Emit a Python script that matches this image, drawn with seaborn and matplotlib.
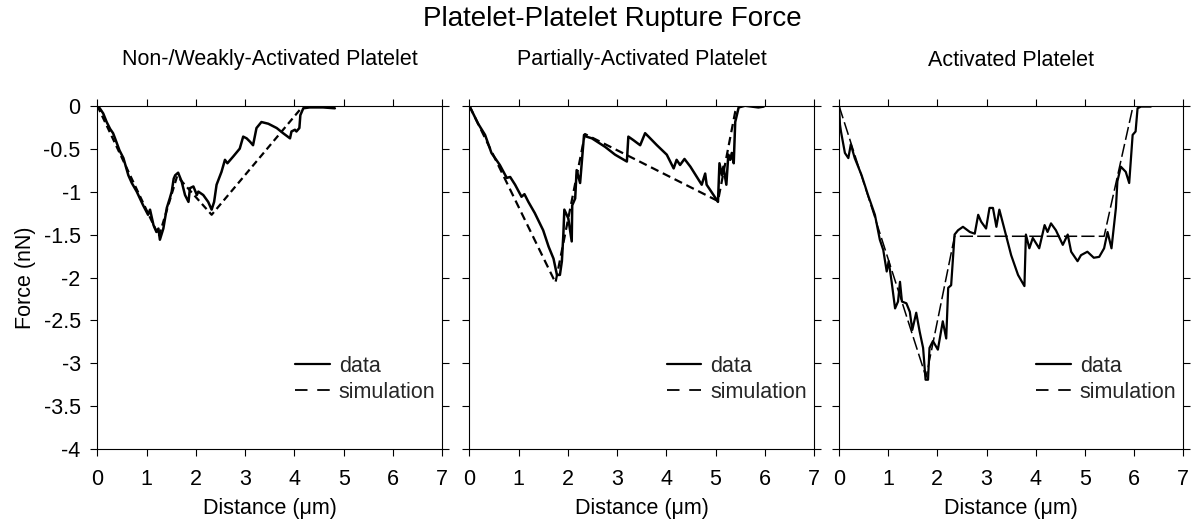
import matplotlib
matplotlib.use("Agg")
import matplotlib.pyplot as plt
from matplotlib.lines import Line2D
from matplotlib.ticker import FuncFormatter
import seaborn as sns

# ---------------------------------------------------------------- data
suptitle_text = "Platelet-Platelet Rupture Force"
panel_titles = ["Non-/Weakly-Activated Platelet",
                "Partially-Activated Platelet",
                "Activated Platelet"]
x_ticks = [0, 1, 2, 3, 4, 5, 6, 7]
y_ticks = [0, -0.5, -1, -1.5, -2, -2.5, -3, -3.5, -4]
legend_labels = ["data", "simulation"]

# Non-/weakly-activated platelet pair
weak_data_x = [0, 0.05, 0.12, 0.19, 0.26, 0.32, 0.36, 0.45, 0.53, 0.63, 0.70, 0.75,
               0.80, 0.93, 1.03, 1.07, 1.14, 1.20, 1.24, 1.27, 1.34, 1.41, 1.47,
               1.51, 1.55, 1.58, 1.64, 1.71, 1.78, 1.85, 1.88, 1.95, 2.02, 2.05,
               2.15, 2.25, 2.32, 2.37, 2.42, 2.52, 2.59, 2.64, 2.76, 2.89, 2.96,
               3.03, 3.10, 3.16, 3.23, 3.33, 3.47, 3.64, 3.77, 3.91, 3.94, 4.01,
               4.04, 4.10, 4.12, 4.18, 4.31, 4.58, 4.82]
weak_data_y = [0, -0.03, -0.09, -0.19, -0.27, -0.32, -0.38, -0.52, -0.61, -0.81,
               -0.90, -0.95, -1.00, -1.16, -1.27, -1.21, -1.39, -1.47, -1.43,
               -1.56, -1.43, -1.19, -1.08, -1.00, -0.85, -0.81, -0.78, -0.88,
               -1.04, -1.12, -0.96, -0.94, -1.04, -1.00, -1.04, -1.12, -1.21,
               -1.12, -0.92, -0.77, -0.63, -0.67, -0.59, -0.50, -0.36, -0.38,
               -0.42, -0.46, -0.26, -0.19, -0.21, -0.26, -0.32, -0.38, -0.30,
               -0.28, -0.30, -0.26, -0.11, -0.03, -0.02, -0.02, -0.03]
weak_sim_x = [0, 1.25, 1.62, 2.32, 4.18, 4.80]
weak_sim_y = [0, -1.52, -0.82, -1.27, 0.0, 0.0]

# Partially-activated platelet pair
partial_data_x = [0, 0.18, 0.32, 0.45, 0.62, 0.76, 0.83, 0.93, 1.06, 1.12, 1.20,
                  1.33, 1.50, 1.61, 1.71, 1.78, 1.84, 1.88, 1.91, 1.93, 2.01, 2.08,
                  2.09, 2.15, 2.18, 2.25, 2.28, 2.33, 2.38, 2.49, 2.76, 2.96, 3.20,
                  3.23, 3.33, 3.47, 3.57, 3.64, 3.81, 4.01, 4.15, 4.21, 4.28, 4.37,
                  4.49, 4.72, 4.79, 4.82, 4.96, 5.05, 5.08, 5.13, 5.16, 5.22, 5.26,
                  5.30, 5.33, 5.37, 5.40, 5.47, 5.60, 5.87, 5.98]
partial_data_y = [0, -0.21, -0.34, -0.55, -0.69, -0.84, -0.83, -0.92, -1.06, -1.03,
                  -1.12, -1.25, -1.45, -1.64, -1.78, -1.97, -1.97, -1.81, -1.50,
                  -1.21, -1.31, -1.58, -1.16, -1.08, -0.75, -0.90, -0.69, -0.34,
                  -0.36, -0.38, -0.48, -0.57, -0.65, -0.36, -0.40, -0.46, -0.32,
                  -0.36, -0.46, -0.57, -0.73, -0.63, -0.69, -0.62, -0.71, -0.92,
                  -0.79, -0.92, -1.04, -1.12, -0.67, -0.81, -0.71, -0.92, -0.57,
                  -0.63, -0.55, -0.67, -0.19, -0.02, 0.0, -0.02, -0.01]
partial_sim_x = [0, 1.75, 2.35, 5.05, 5.40, 5.47]
partial_sim_y = [0, -2.06, -0.33, -1.11, -0.07, 0.0]

# Activated platelet pair
active_data_x = [0, 0.02, 0.04, 0.12, 0.19, 0.24, 0.32, 0.46, 0.59, 0.73, 0.83,
                 0.90, 0.97, 1.01, 1.07, 1.14, 1.20, 1.24, 1.28, 1.37, 1.44, 1.49,
                 1.57, 1.64, 1.71, 1.76, 1.81, 1.84, 1.91, 2.01, 2.11, 2.18, 2.22,
                 2.28, 2.35, 2.42, 2.52, 2.66, 2.76, 2.83, 2.89, 2.99, 3.06, 3.13,
                 3.20, 3.26, 3.36, 3.50, 3.64, 3.77, 3.80, 3.87, 3.94, 4.07, 4.18,
                 4.24, 4.31, 4.41, 4.55, 4.65, 4.72, 4.85, 4.92, 5.05, 5.18, 5.29,
                 5.39, 5.46, 5.54, 5.63, 5.66, 5.73, 5.83, 5.90, 5.97, 6.03, 6.07,
                 6.14, 6.34]
active_data_y = [0, -0.22, -0.30, -0.55, -0.61, -0.45, -0.61, -0.81, -1.04, -1.27,
                 -1.56, -1.68, -1.93, -1.81, -2.05, -2.36, -2.28, -2.05, -2.28,
                 -2.30, -2.40, -2.61, -2.41, -2.63, -2.82, -3.19, -3.19, -2.82,
                 -2.74, -2.84, -2.51, -2.71, -2.12, -2.09, -1.50, -1.45, -1.41,
                 -1.47, -1.49, -1.27, -1.35, -1.43, -1.19, -1.19, -1.41, -1.21,
                 -1.43, -1.74, -1.97, -2.10, -1.50, -1.66, -1.54, -1.66, -1.39,
                 -1.47, -1.37, -1.45, -1.62, -1.50, -1.70, -1.81, -1.74, -1.70,
                 -1.77, -1.76, -1.66, -1.47, -1.66, -1.19, -0.88, -0.71, -0.77,
                 -0.90, -0.34, -0.30, -0.03, -0.01, -0.01]
active_sim_x = [0, 1.77, 2.35, 5.39, 5.98]
active_sim_y = [0, -3.16, -1.52, -1.52, 0.0]

# ---------------------------------------------------------------- style
sns.set_theme(style="ticks")
plt.rcParams["font.family"] = ["Liberation Sans", "DejaVu Sans"]
plt.rcParams["axes.unicode_minus"] = False
plt.rcParams["lines.scale_dashes"] = False

FS = 15.5
fig = plt.figure(figsize=(11.92, 5.19), dpi=100)

W, H = 1192.0, 519.0
ax_left_px = [97.3, 469.3, 839.0]
ax_right_px = [442.3, 814.0, 1183.3]
ax_top_px, ax_bot_px = 105.7, 449.3
ax_h_px = ax_bot_px - ax_top_px

panels = [
    (weak_data_x, weak_data_y, weak_sim_x, weak_sim_y, 1.8, 1.6, (5, 3)),
    (partial_data_x, partial_data_y, partial_sim_x, partial_sim_y, 1.8, 1.6, (6, 3.5)),
    (active_data_x, active_data_y, active_sim_x, active_sim_y, 1.6, 1.1, (9.5, 3)),
]

for i, (dx, dy, sx, sy, lw_d, lw_s, dash) in enumerate(panels):
    ax = fig.add_axes([ax_left_px[i] / W, 1 - ax_bot_px / H,
                       (ax_right_px[i] - ax_left_px[i]) / W, ax_h_px / H])
    sns.lineplot(x=sx, y=sy, ax=ax, color="black", linewidth=lw_s,
                 linestyle=(0, dash), sort=False, estimator=None, legend=False)
    sns.lineplot(x=dx, y=dy, ax=ax, color="black", linewidth=lw_d,
                 sort=False, estimator=None, legend=False)

    ax.set_xlim(0, 7)
    ax.set_ylim(-4, 0)
    ax.set_xticks(x_ticks)
    ax.set_yticks(y_ticks)
    ax.yaxis.set_major_formatter(FuncFormatter(lambda v, p: f"{v:g}"))
    ax.tick_params(axis="both", which="major", direction="out", length=5,
                   width=0.8, color="black", labelsize=FS, labelcolor="black",
                   top=True, right=True)
    ax.tick_params(axis="x", pad=9)
    ax.tick_params(axis="y", pad=7)
    if i > 0:
        ax.tick_params(axis="y", labelleft=False)
    for sp in ax.spines.values():
        sp.set_visible(True)
        sp.set_color("black")
        sp.set_linewidth(0.8)
    ax.set_xlabel("Distance (\u03bcm)", fontsize=FS, color="black", labelpad=6)
    if i == 0:
        ax.set_ylabel("Force (nN)", fontsize=FS, color="black", labelpad=5)
    else:
        ax.set_ylabel("")
    ax.text(0.5, 1 + (ax_top_px - 60) / ax_h_px, panel_titles[i],
            transform=ax.transAxes, ha="center", va="center", fontsize=FS,
            color="black")

    handles = [Line2D([], [], color="black", linewidth=1.6),
               Line2D([], [], color="black", linewidth=1.3, linestyle=(0, (9, 7)))]
    ax.legend(handles, legend_labels, loc="upper right",
              bbox_to_anchor=(1 - 7 / 345, 1 - (356 - ax_top_px) / ax_h_px),
              frameon=False, fontsize=FS, borderpad=0, borderaxespad=0,
              handlelength=1.6, handletextpad=0.42, labelspacing=0.22)

fig.text(612 / W, 1 - 19 / H, suptitle_text, ha="center", va="center",
         fontsize=20, color="black")

fig.savefig("out.png", dpi=100, facecolor="white")
